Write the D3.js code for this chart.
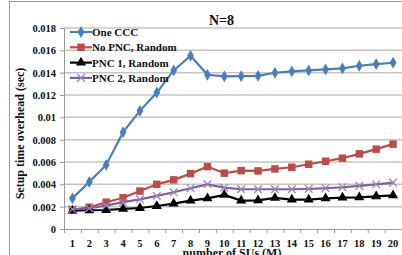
<!DOCTYPE html>
<html lang="en">
<head>
<meta charset="UTF-8">
<title>N=8</title>
<script src="https://cdnjs.cloudflare.com/ajax/libs/d3/7.9.0/d3.min.js"></script>
<style>
    body { margin: 0; background: #fff; overflow: hidden; }
    svg text { font-family: 'Liberation Serif', 'DejaVu Serif', serif; font-weight: bold; fill: #111; }
</style>
</head>
<body>
<div id="root"></div>
<script>
    // data
    const users = [1, 2, 3, 4, 5, 6, 7, 8, 9, 10, 11, 12, 13, 14, 15, 16, 17, 18, 19, 20]
    const oneCCC = [0.00275, 0.00422, 0.00574, 0.00867, 0.01058, 0.01222, 0.0142, 0.01552, 0.01381, 0.01366,
        0.01369, 0.01372, 0.01399, 0.01411, 0.0142, 0.01429, 0.01438, 0.01462, 0.01477, 0.01489]
    const noPNC = [0.0017, 0.00195, 0.0024, 0.0028, 0.0034, 0.004, 0.0044, 0.00496, 0.00559, 0.005,
        0.00523, 0.0052, 0.00538, 0.00553, 0.0058, 0.00607, 0.00634, 0.00673, 0.00715, 0.0076]
    const pnc1 = [0.00164, 0.00168, 0.0017, 0.0018, 0.00188, 0.00206, 0.00227, 0.00254, 0.00275, 0.00305,
        0.00254, 0.00257, 0.00278, 0.00263, 0.00263, 0.00275, 0.00281, 0.00284, 0.00293, 0.00302]
    const pnc2 = [0.00177, 0.00186, 0.00209, 0.0024, 0.00266, 0.00296, 0.00329, 0.00365, 0.004, 0.0037,
        0.00356, 0.00356, 0.00356, 0.00356, 0.00359, 0.00365, 0.00374, 0.00386, 0.004, 0.00415]
    const yTicks = [0, 0.002, 0.004, 0.006, 0.008, 0.01, 0.012, 0.014, 0.016, 0.018]

    const series = [
        { name: 'One CCC', values: oneCCC, color: '#4a7ebb', marker: 'diamond' },
        { name: 'No PNC, Random', values: noPNC, color: '#be4b48', marker: 'square' },
        { name: 'PNC 1, Random', values: pnc1, color: '#000000', marker: 'triangle' },
        { name: 'PNC 2, Random', values: pnc2, color: '#7d60a0', marker: 'cross' }
    ]

    const W = 402, H = 255
    const margin = { top: 28, left: 64, right: 0, bottom: 26 }

    const svg = d3.select('#root').append('svg')
        .attr('width', W)
        .attr('height', H)

    // outer frame
    svg.append('rect')
        .attr('x', 9.5).attr('y', 1.5)
        .attr('width', W).attr('height', H)
        .attr('fill', 'none')
        .attr('stroke', '#9a9a9a')

    const x = d3.scaleBand()
        .domain(users)
        .range([margin.left, W - 0.5])

    const y = d3.scaleLinear()
        .domain([0, 0.018])
        .range([H - margin.bottom, margin.top])

    // grid
    svg.append('g')
        .selectAll('line')
        .data(yTicks.slice(1))
        .enter()
        .append('line')
        .attr('x1', margin.left).attr('x2', W)
        .attr('y1', d => y(d)).attr('y2', d => y(d))
        .attr('stroke', '#c4c4c4')
        .attr('stroke-width', 1.5)

    // Y axis
    const yAxis = svg.append('g')
        .attr('transform', `translate(${margin.left},0)`)
        .call(d3.axisLeft(y).tickValues(yTicks).tickSize(4).tickPadding(4)
            .tickFormat(d => d === 0 ? '0' : d3.format('')(+d.toFixed(3))))
    yAxis.select('.domain').attr('stroke', '#9a9a9a')
    yAxis.selectAll('.tick line').attr('stroke', '#9a9a9a')
    yAxis.selectAll('text').style('font-size', '10.5px')

    // X axis
    const xAxis = svg.append('g')
        .attr('transform', `translate(0,${y(0)})`)
        .call(d3.axisBottom(x).tickSize(0).tickPadding(11))
    xAxis.select('.domain').attr('stroke', '#9a9a9a')
    xAxis.selectAll('text').style('font-size', '10.5px')
    // tick marks on band edges
    xAxis.selectAll('.edge')
        .data(users)
        .enter()
        .append('line')
        .attr('x1', d => x(d) + 0.5).attr('x2', d => x(d) + 0.5)
        .attr('y1', 0).attr('y2', 4)
        .attr('stroke', '#9a9a9a')

    // lines
    const line = d3.line()
        .x((d, i) => x(users[i]) + x.bandwidth() / 2)
        .y(d => y(d))

    const markerPath = {
        diamond: d3.symbol(d3.symbolDiamond, 40)(),
        square: d3.symbol(d3.symbolSquare, 56)(),
        triangle: d3.symbol(d3.symbolTriangle, 44)(),
        cross: d3.symbol(d3.symbolX, 40)()
    }

    const drawMarker = (g, s) => {
        const p = g.append('path').attr('d', markerPath[s.marker])
        if (s.marker === 'cross') {
            p.attr('fill', 'none').attr('stroke', '#9b83c0').attr('stroke-width', 1.3)
        } else {
            p.attr('fill', s.color)
        }
    }

    series.forEach(s => {
        svg.append('path')
            .datum(s.values)
            .attr('d', line)
            .attr('fill', 'none')
            .attr('stroke', s.color)
            .attr('stroke-width', 2.2)
        s.values.forEach((v, i) => {
            const g = svg.append('g')
                .attr('transform', `translate(${x(users[i]) + x.bandwidth() / 2},${y(v)})`)
            drawMarker(g, s)
        })
    })

    // legend
    const legend = svg.append('g')
        .attr('transform', 'translate(70,32)')
    series.forEach((s, i) => {
        const row = legend.append('g').attr('transform', `translate(0,${i * 15.3})`)
        row.append('line')
            .attr('x1', 0).attr('x2', 22)
            .attr('stroke', s.color)
            .attr('stroke-width', 2.2)
        const m = row.append('g').attr('transform', 'translate(11,0)')
        drawMarker(m, s)
        row.append('text')
            .attr('x', 22)
            .attr('y', 4)
            .style('font-size', '11px')
            .text(s.name)
    })

    // title
    svg.append('text')
        .attr('x', 209)
        .attr('y', 25)
        .style('font-size', '14px')
        .text('N=8')

    // axis titles
    svg.append('text')
        .attr('transform', `translate(24,${(y(0) + margin.top) / 2 + 5}) rotate(-90)`)
        .attr('text-anchor', 'middle')
        .style('font-size', '12px')
        .text('Setup time overhead (sec)')

    // in the original this title sits at the bottom edge, partly cut off
    svg.append('text')
        .attr('x', 232)
        .attr('y', 257)
        .attr('text-anchor', 'middle')
        .style('font-size', '12px')
        .text('number of SUs (M)')
</script>
</body>
</html>
